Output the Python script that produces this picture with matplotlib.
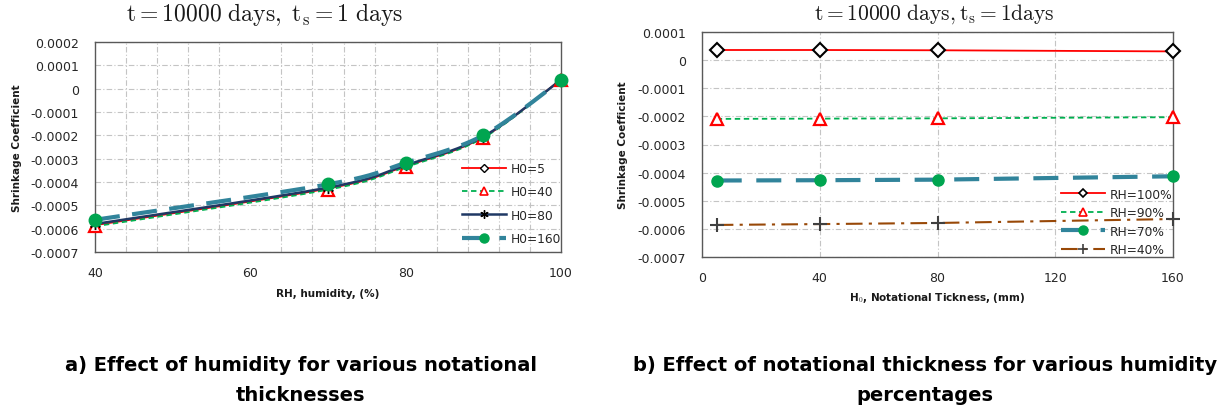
import numpy as np
import matplotlib
matplotlib.use("Agg")
import matplotlib.pyplot as plt
from matplotlib.lines import Line2D

plt.rcParams['mathtext.fontset'] = 'cm'
plt.rcParams['font.family'] = ['DejaVu Sans']

# ---- data: (a) shrinkage vs relative humidity for several notational thicknesses
rh = [40, 70, 80, 90, 100]
h0_5 = [-0.000585, -0.000428, -0.000332, -0.000208, 0.000040]
h0_40 = [-0.000590, -0.000433, -0.000336, -0.000211, 0.000039]
h0_80 = [-0.000580, -0.000424, -0.000328, -0.000205, 0.000038]
h0_160 = [-0.000562, -0.000410, -0.000318, -0.000200, 0.000036]

# ---- data: (b) shrinkage vs notational thickness for several humidities
h0 = [5, 40, 80, 160]
rh_100 = [0.000036, 0.000036, 0.000035, 0.000031]
rh_90 = [-0.000209, -0.000208, -0.000207, -0.000203]
rh_70 = [-0.000428, -0.000427, -0.000425, -0.000413]
rh_40 = [-0.000586, -0.000583, -0.000579, -0.000565]

RED = '#FF0000'
GREEN = '#00B050'
NAVY = '#1F3864'
TEAL = '#31849B'
BROWN = '#984807'
DOTGREEN = '#00A550'
TICKC = '#262626'
LABC = '#1a1a1a'


def smooth(x, y, n=40):
    """Bezier smoothing through the points (Catmull-Rom style)."""
    p = np.column_stack([np.asarray(x, float), np.asarray(y, float)])
    ext = np.vstack([p[0], p, p[-1]])
    out = []
    t = np.linspace(0, 1, n)[:, None]
    for i in range(len(p) - 1):
        p0, p1, p2, p3 = ext[i], ext[i + 1], ext[i + 2], ext[i + 3]
        b1 = p1 + (p2 - p0) / 6.0
        b2 = p2 - (p3 - p1) / 6.0
        seg = ((1 - t) ** 3) * p1 + 3 * ((1 - t) ** 2) * t * b1 + 3 * (1 - t) * t ** 2 * b2 + t ** 3 * p2
        out.append(seg if i == 0 else seg[1:])
    s = np.vstack(out)
    return s[:, 0], s[:, 1]


def style_axes(ax):
    for sp in ax.spines.values():
        sp.set_color('#595959')
        sp.set_linewidth(1.0)
    ax.tick_params(which='both', length=0, labelsize=9, colors=TICKC)
    ax.tick_params(axis='x', pad=10)
    ax.tick_params(axis='y', pad=11.5)


grid_kw = dict(color='#C4C4C4', linewidth=0.8, linestyle=(0, (5, 2, 1, 2)))
leg_kw = dict(frameon=False, fontsize=8.8, numpoints=1, handlelength=3.6,
              handletextpad=0.4, borderaxespad=0, labelcolor=TICKC)

fig = plt.figure(figsize=(12.23, 4.14), dpi=100)

# ================= (a) =================
ax1 = fig.add_axes([95 / 1223, 1 - 253 / 414, 466 / 1223, 210 / 414])
style_axes(ax1)
ax1.set_xlim(40, 100)
ax1.set_ylim(-0.0007, 0.0002)
ax1.set_xticks([40, 60, 80, 100])
ax1.set_xticks(np.arange(40, 101, 4), minor=True)
ax1.set_yticks(np.arange(-0.0007, 0.00021, 0.0001))
ax1.set_yticklabels(['-0.0007', '-0.0006', '-0.0005', '-0.0004', '-0.0003',
                     '-0.0002', '-0.0001', '0', '0.0001', '0.0002'])
ax1.grid(True, axis='y', which='major', **grid_kw)
ax1.grid(True, axis='x', which='minor', **grid_kw)
ax1.set_axisbelow(True)

series_a = [
    (h0_5, 'H0=5', dict(color=RED, lw=1.3, ls='-'),
     dict(marker='D', ms=4.5, mfc='white', mec='black', mew=1.0), 4),
    (h0_40, 'H0=40', dict(color=GREEN, lw=1.3, ls=(0, (3, 2))),
     dict(marker='^', ms=8, mfc='white', mec=RED, mew=1.6), 6),
    (h0_80, 'H0=80', dict(color=NAVY, lw=1.8, ls='-'),
     dict(marker=(6, 2, 0), ms=8, mfc='black', mec='black', mew=1.0), 6),
    (h0_160, 'H0=160', dict(color=TEAL, lw=3.0, ls=(0, (6, 3))),
     dict(marker='o', ms=9, mfc=DOTGREEN, mec=DOTGREEN, mew=1.0), 6.5),
]
handles_a = []
for vals, lab, lkw, mkw, lms in series_a:
    xs, ys = smooth(rh, vals)
    ax1.plot(xs, ys, clip_on=False, **lkw)
    ax1.plot(rh, vals, ls='none', clip_on=False, zorder=3, **mkw)
    hk = dict(mkw)
    hk['ms'] = lms
    hk['mew'] = min(mkw['mew'], 1.2)
    handles_a.append(Line2D([], [], label=lab, **lkw, **hk))

ax1.legend(handles=handles_a, loc='upper left', bbox_to_anchor=(0.776, 0.452),
           labelspacing=0.85, **leg_kw)

ax1.set_xlabel('RH, humidity, (%)', fontsize=7.5, fontweight='bold', labelpad=6.5, color=LABC)
ax1.set_ylabel('Shrinkage Coefficient', fontsize=7.5, fontweight='bold', labelpad=6, color=LABC)
fig.text(265 / 1223, 1 - 15 / 414, r'$\mathrm{t=10000\ days,\ t_s=1\ days}$',
         ha='center', va='center', fontsize=17, color=LABC)

# ================= (b) =================
ax2 = fig.add_axes([702 / 1223, 1 - 258 / 414, 471 / 1223, 225 / 414])
style_axes(ax2)
ax2.set_xlim(0, 160)
ax2.set_ylim(-0.0007, 0.0001)
ax2.set_xticks([0, 40, 80, 120, 160])
ax2.set_yticks(np.arange(-0.0007, 0.00011, 0.0001))
ax2.set_yticklabels(['-0.0007', '-0.0006', '-0.0005', '-0.0004', '-0.0003',
                     '-0.0002', '-0.0001', '0', '0.0001'])
ax2.grid(True, **grid_kw)
ax2.set_axisbelow(True)

series_b = [
    (rh_100, 'RH=100%', dict(color=RED, lw=1.3, ls='-'),
     dict(marker='D', ms=7, mfc='white', mec='black', mew=1.5), 4),
    (rh_90, 'RH=90%', dict(color=GREEN, lw=1.3, ls=(0, (3, 2))),
     dict(marker='^', ms=9, mfc='white', mec=RED, mew=1.6), 6),
    (rh_70, 'RH=70%', dict(color=TEAL, lw=3.0, ls=(0, (6, 3.5))),
     dict(marker='o', ms=8, mfc=DOTGREEN, mec=DOTGREEN, mew=1.0), 6.5),
    (rh_40, 'RH=40%', dict(color=BROWN, lw=1.5, ls=(0, (8, 3, 1.5, 3))),
     dict(marker='+', ms=10, mfc='#404040', mec='#404040', mew=1.5), 7),
]
handles_b = []
for vals, lab, lkw, mkw, lms in series_b:
    ax2.plot(h0, vals, clip_on=False, **lkw)
    ax2.plot(h0, vals, ls='none', clip_on=False, zorder=3, **mkw)
    hk = dict(mkw)
    hk['ms'] = lms
    hk['mew'] = min(mkw['mew'], 1.2)
    handles_b.append(Line2D([], [], label=lab, **lkw, **hk))

ax2.legend(handles=handles_b, loc='upper left', bbox_to_anchor=(0.752, 0.33),
           labelspacing=0.45, **leg_kw)

ax2.set_xlabel('H$_0$, Notational Tickness, (mm)', fontsize=7.5, fontweight='bold',
               labelpad=4.5, color=LABC)
ax2.set_ylabel('Shrinkage Coefficient', fontsize=7.5, fontweight='bold', labelpad=7, color=LABC)
fig.text(934 / 1223, 1 - 14 / 414, r'$\mathrm{t=10000\ days,t_s=1days}$',
         ha='center', va='center', fontsize=15.5, color=LABC)

# ---- captions
cap_kw = dict(ha='center', va='center', fontsize=14, fontweight='bold', color='black')
fig.text(301 / 1223, 1 - 366 / 414, 'a) Effect of humidity for various notational', **cap_kw)
fig.text(300 / 1223, 1 - 396 / 414, 'thicknesses', **cap_kw)
fig.text(925 / 1223, 1 - 366 / 414, 'b) Effect of notational thickness for various humidity', **cap_kw)
fig.text(925 / 1223, 1 - 396 / 414, 'percentages', **cap_kw)

fig.savefig('out.png', dpi=100)
